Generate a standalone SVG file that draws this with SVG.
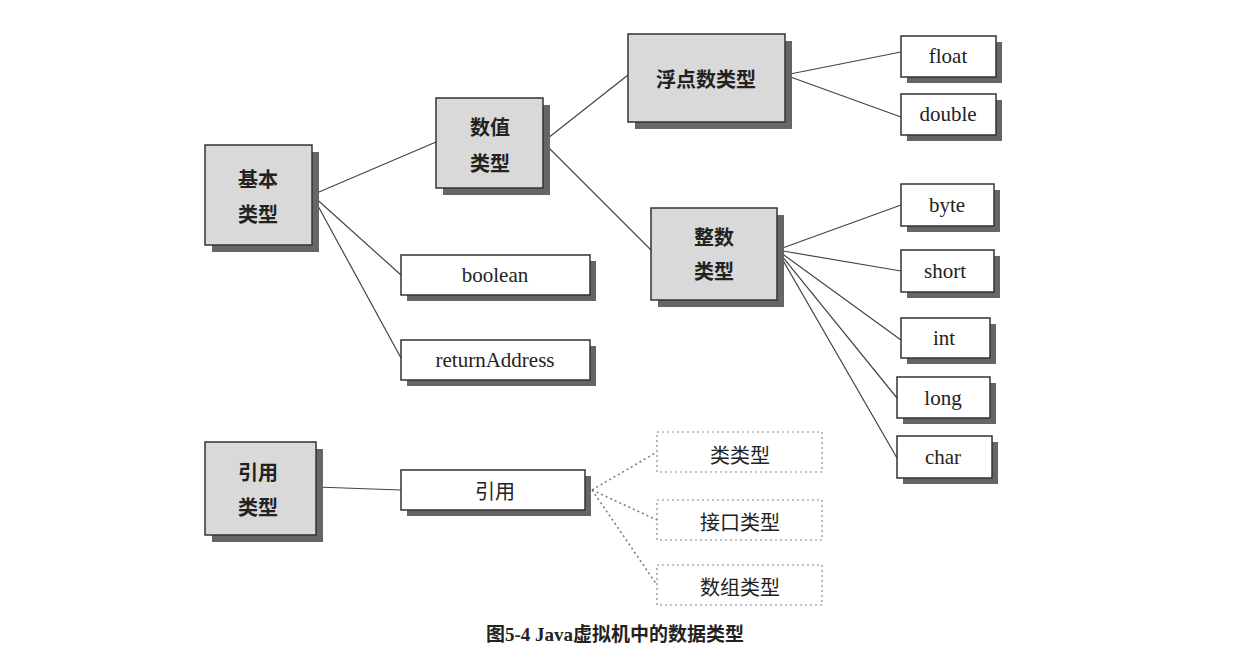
<svg xmlns="http://www.w3.org/2000/svg" width="1250" height="672" viewBox="0 0 1250 672">
<defs><style>
.g{fill:#d9d9d9;stroke:#333;stroke-width:1.5}
.w{fill:#fff;stroke:#333;stroke-width:1.5}
.d{fill:#fff;stroke:#888;stroke-width:1.2;stroke-dasharray:2 3}
.s{fill:#666}
text{font-family:"Liberation Serif","Noto Sans CJK SC",serif;font-size:21px;fill:#222;text-anchor:middle;dominant-baseline:central}
.c{font-weight:bold;font-family:"Noto Sans CJK SC",sans-serif;font-size:20px}
.l{stroke:#444;stroke-width:1.2;fill:none}
.dl{stroke:#777;stroke-width:1.5;fill:none;stroke-dasharray:2 3}
</style></defs>
<rect width="1250" height="672" fill="#fff"/>
<g id="connectors">
<path class="l" d="M312 195L436 142M312 195L401 275M312 195L401 358M543 142L628 75M543 142L651 250M785 75L901 52M785 75L901 117M777 250L901 205M777 250L901 271M777 250L901 340M777 250L897 398M777 250L897 458M316 487L401 490"/>
<path class="dl" d="M592 490L657 452M592 490L657 520M592 490L657 585"/>
</g>
<g id="n1"><rect class="s" x="212" y="152" width="107" height="100"/><rect class="g" x="205" y="145" width="107" height="100"/><text class="c" x="258" y="178">基本</text><text class="c" x="258" y="213">类型</text></g>
<g id="n2"><rect class="s" x="443" y="105" width="107" height="90"/><rect class="g" x="436" y="98" width="107" height="90"/><text class="c" x="490" y="126">数值</text><text class="c" x="490" y="162">类型</text></g>
<g id="n3"><rect class="s" x="635" y="41" width="157" height="88"/><rect class="g" x="628" y="34" width="157" height="88"/><text class="c" x="706" y="78">浮点数类型</text></g>
<g id="n4"><rect class="s" x="658" y="215" width="126" height="92"/><rect class="g" x="651" y="208" width="126" height="92"/><text class="c" x="714" y="236">整数</text><text class="c" x="714" y="270">类型</text></g>
<g id="n5"><rect class="s" x="907" y="42" width="95" height="41"/><rect class="w" x="901" y="36" width="95" height="41"/><text x="948" y="56">float</text></g>
<g id="n6"><rect class="s" x="907" y="100" width="95" height="41"/><rect class="w" x="901" y="94" width="95" height="41"/><text x="948" y="114">double</text></g>
<g id="n7"><rect class="s" x="907" y="190" width="93" height="42"/><rect class="w" x="901" y="184" width="93" height="42"/><text x="947" y="205">byte</text></g>
<g id="n8"><rect class="s" x="907" y="256" width="93" height="42"/><rect class="w" x="901" y="250" width="93" height="42"/><text x="945" y="271">short</text></g>
<g id="n9"><rect class="s" x="907" y="324" width="89" height="40"/><rect class="w" x="901" y="318" width="89" height="40"/><text x="944" y="338">int</text></g>
<g id="n10"><rect class="s" x="903" y="383" width="93" height="41"/><rect class="w" x="897" y="377" width="93" height="41"/><text x="943" y="398">long</text></g>
<g id="n11"><rect class="s" x="903" y="442" width="95" height="42"/><rect class="w" x="897" y="436" width="95" height="42"/><text x="943" y="457">char</text></g>
<g id="n12"><rect class="s" x="407" y="261" width="189" height="40"/><rect class="w" x="401" y="255" width="189" height="40"/><text x="495" y="275">boolean</text></g>
<g id="n13"><rect class="s" x="407" y="346" width="189" height="40"/><rect class="w" x="401" y="340" width="189" height="40"/><text x="495" y="360">returnAddress</text></g>
<g id="n14"><rect class="s" x="212" y="449" width="111" height="93"/><rect class="g" x="205" y="442" width="111" height="93"/><text class="c" x="258" y="471">引用</text><text class="c" x="258" y="506">类型</text></g>
<g id="n15"><rect class="s" x="407" y="476" width="184" height="40"/><rect class="w" x="401" y="470" width="184" height="40"/><text class="c" x="495" y="490" style="font-weight:normal">引用</text></g>
<g id="n16"><rect class="d" x="657" y="432" width="165" height="40"/><text class="c" x="740" y="454" style="font-weight:normal">类类型</text></g>
<g id="n17"><rect class="d" x="657" y="500" width="165" height="40"/><text class="c" x="740" y="521" style="font-weight:normal">接口类型</text></g>
<g id="n18"><rect class="d" x="657" y="565" width="165" height="40"/><text class="c" x="740" y="586" style="font-weight:normal">数组类型</text></g>
<text x="615" y="634" style="font-weight:bold;font-size:19px">图5-4  Java虚拟机中的数据类型</text>
</svg>
